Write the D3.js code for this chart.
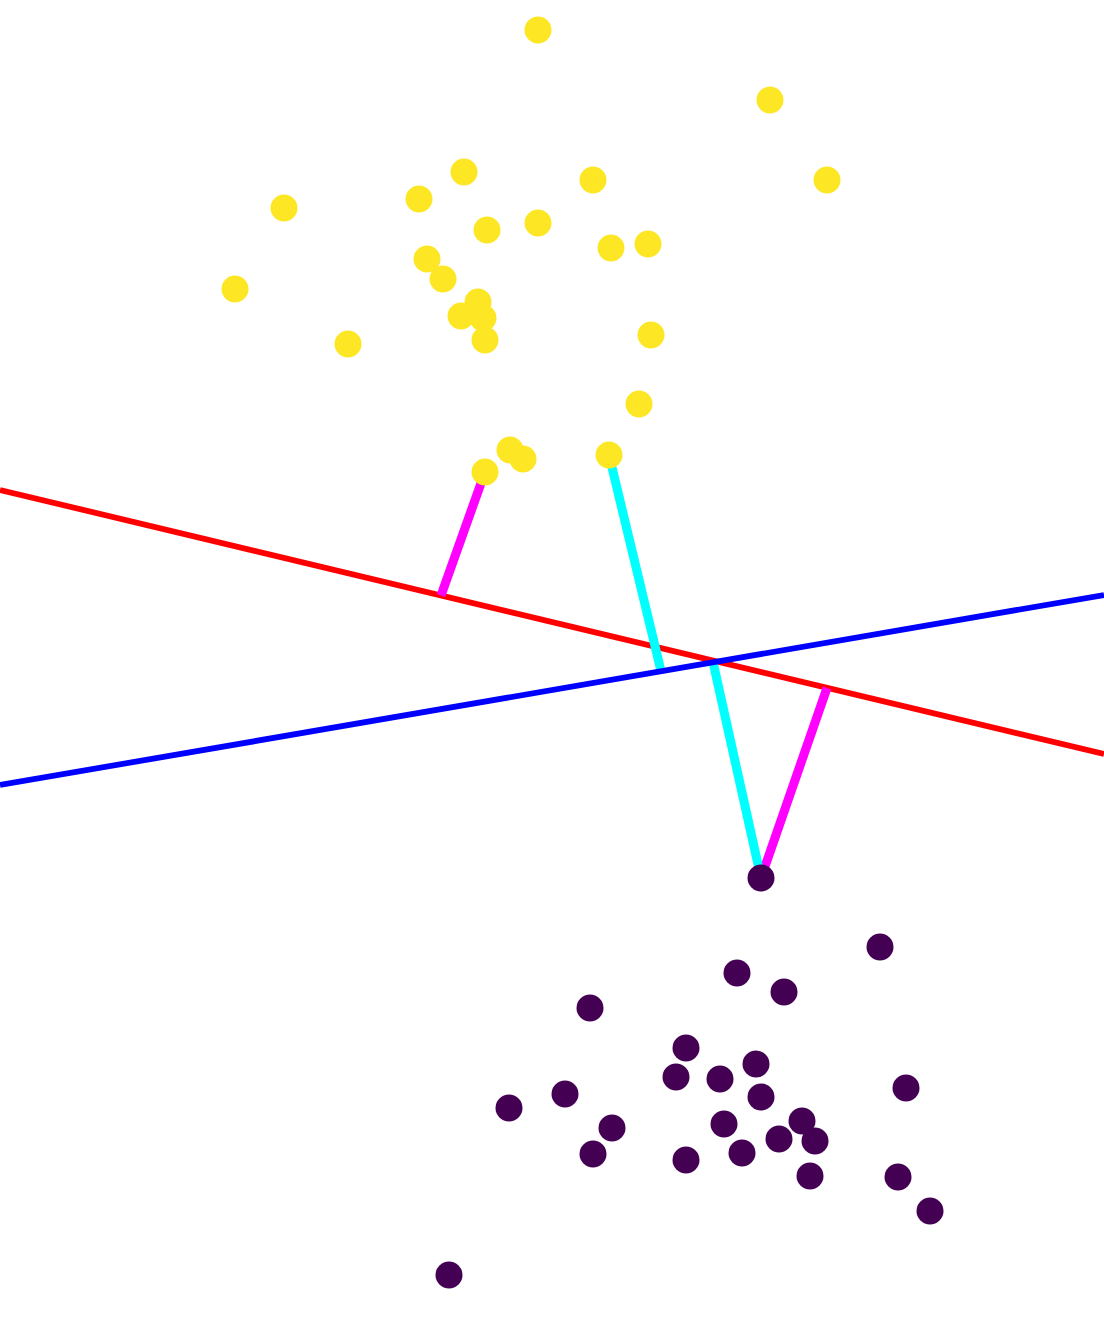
<!DOCTYPE html>
<html>
<head>
<meta charset="utf-8">
<script src="https://cdn.jsdelivr.net/npm/d3@7"></script>
<style>
html,body{margin:0;padding:0;background:#fff;}
svg{display:block;}
</style>
</head>
<body>
<div id="chart"></div>
<script>
// Class 1 (yellow) points [x, y] in data units
const class1X = [5.38,7.70,8.27,5.93,4.64,4.19,2.84,4.87,5.38,6.11,6.48,4.27,4.43,2.35,4.78,4.61,4.83,4.85,3.48,6.51,6.39,5.10,5.23,4.85,6.09];
const class1Y = [12.88,12.18,11.38,11.38,11.46,11.19,11.10,10.88,10.95,10.70,10.74,10.59,10.39,10.29,10.16,10.02,10.00,9.78,9.74,9.83,9.14,8.68,8.59,8.46,8.63];
// Class 0 (purple) points
const class0X = [7.61,8.80,7.37,7.84,5.90,6.86,6.76,7.20,7.56,7.61,5.65,5.09,6.12,5.93,7.24,6.86,7.42,7.79,8.02,8.15,8.10,9.06,8.98,9.30,4.49];
const class0Y = [4.40,3.71,3.45,3.26,3.10,2.70,2.41,2.39,2.54,2.21,2.24,2.10,1.90,1.64,1.94,1.58,1.65,1.79,1.97,1.77,1.42,2.30,1.41,1.07,0.43];
// Separating lines: [x0, y0, x1, y1]
const redLine = [0, 8.28, 11.04, 5.64];
const blueLine = [0, 5.33, 11.04, 7.23];
// Distance segments (point -> line)
const magentaSegs = [[4.85, 8.46, 4.41, 7.225], [7.61, 4.40, 8.27, 6.30]];
const cyanSegs = [[6.09, 8.63, 6.61, 6.47], [7.61, 4.40, 7.13, 6.56]];

const W = 1104, H = 1318;
const x = d3.scaleLinear().domain([0, 11.04]).range([0, W]);
const y = d3.scaleLinear().domain([0, 13.18]).range([H, 0]);

const svg = d3.select("#chart").append("svg").attr("width", W).attr("height", H);

function seg(g, s, color, w) {
  g.append("line")
    .attr("x1", x(s[0])).attr("y1", y(s[1]))
    .attr("x2", x(s[2])).attr("y2", y(s[3]))
    .attr("stroke", color).attr("stroke-width", w);
}

const gl = svg.append("g");
seg(gl, redLine, "#ff0000", 5.8);
magentaSegs.forEach(s => seg(gl, s, "#ff00ff", 9));
cyanSegs.forEach(s => seg(gl, s, "#00ffff", 9));
seg(gl, blueLine, "#0000ff", 5.8);

const pts0 = class0X.map((v, i) => [v, class0Y[i]]);
const pts1 = class1X.map((v, i) => [v, class1Y[i]]);

svg.append("g").selectAll("circle").data(pts0).join("circle")
  .attr("cx", d => x(d[0])).attr("cy", d => y(d[1])).attr("r", 13.5)
  .attr("fill", "#440154");
svg.append("g").selectAll("circle").data(pts1).join("circle")
  .attr("cx", d => x(d[0])).attr("cy", d => y(d[1])).attr("r", 13.5)
  .attr("fill", "#fde725");
</script>
</body>
</html>
